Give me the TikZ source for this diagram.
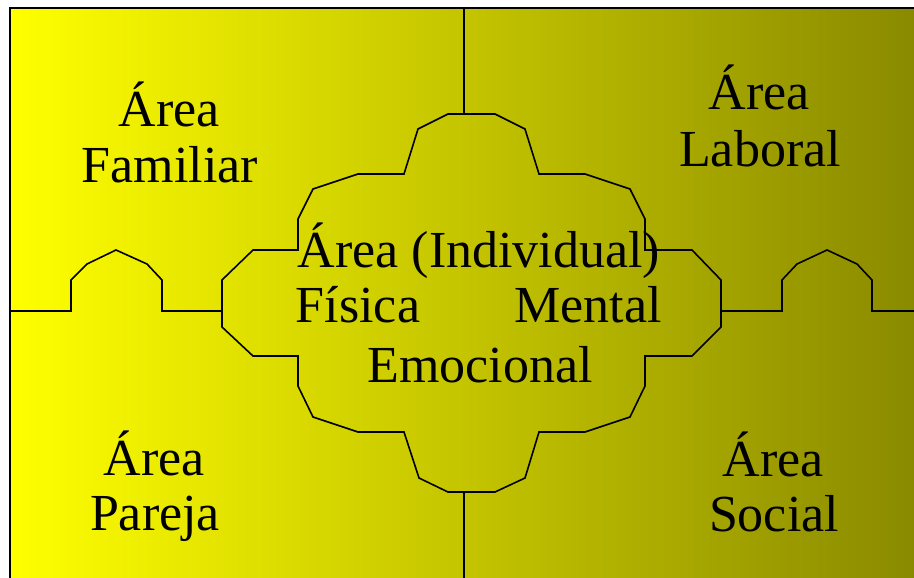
\documentclass[tikz,border=0pt]{standalone}
\usepackage{fontspec}
\setmainfont{Liberation Serif}
\definecolor{ylw}{RGB}{255,255,0}
\definecolor{olv}{RGB}{138,138,0}
\tikzset{
  lbl/.style={font=\fontsize{52}{55}\selectfont, inner sep=0pt, anchor=base, align=center},
  edge/.style={draw=black, line width=1.6pt, line join=miter},
}
\begin{document}
\begin{tikzpicture}[x=1pt,y=-1pt]
\useasboundingbox (0,0) rectangle (914,578);
\fill[white] (0,0) rectangle (914,578);
\shade[left color=ylw, right color=olv] (10,8) rectangle (914,590);
\draw[line width=2pt] (10,590) -- (10,8) -- (920,8);
% named points
\coordinate (topF) at (464,8);
\coordinate (botF) at (464,590);
\coordinate (leftF) at (10,311);
\coordinate (rightF) at (920,311);
% central shape
\draw[edge] (448,114) coordinate (cT) -- (495,114) -- (525,129) -- (539,174) -- (585,174) -- (630,189) -- (645,219) -- (645,250) -- (692,250) -- (721,280) -- (721,311) coordinate (cR) -- (721,327) -- (692,356) -- (645,356) -- (645,386) -- (630,417) -- (585,432) -- (539,432) -- (525,478) -- (495,492) -- (448,492) -- (419,478) -- (404,432) -- (358,432) -- (313,417) -- (298,386) -- (298,356) -- (253,356) -- (222,327) -- (222,311) coordinate (cL) -- (222,280) -- (253,250) -- (298,250) -- (298,219) -- (313,189) -- (358,174) -- (404,174) -- (418,129) -- cycle;
\coordinate (cTop) at (464,114);
\coordinate (cBot) at (464,492);
% connectors
\draw[edge] (topF) -- (cTop);
\draw[edge] (cBot) -- (botF);
\draw[edge] (leftF) -- (71,311) -- (71,280) -- (87,264) -- (116,250) -- (147,264) -- (162,280) -- (162,311) -- (cL);
\draw[edge] (cR) -- (782,311) -- (782,280) -- (797,264) -- (827,250) -- (857,264) -- (872,280) -- (872,311) -- (rightF);
% labels
\node[lbl] (fam1) at (169,127) {Área};
\node[lbl] (fam2) at (170,182) {Familiar};
\node[lbl] (lab1) at (759,110) {Área};
\node[lbl] (lab2) at (760,166) {Laboral};
\node[lbl] (par1) at (154,475) {Área};
\node[lbl] (par2) at (155,530) {Pareja};
\node[lbl] (soc1) at (773,476) {Área};
\node[lbl] (soc2) at (774,531) {Social};
\node[lbl] (ind) at (479,267) {Área (Individual)};
\node[lbl] (fis) at (358,322) {Física};
\node[lbl] (men) at (588,322) {Mental};
\node[lbl] (emo) at (480,382) {Emocional};
\end{tikzpicture}
\end{document}
